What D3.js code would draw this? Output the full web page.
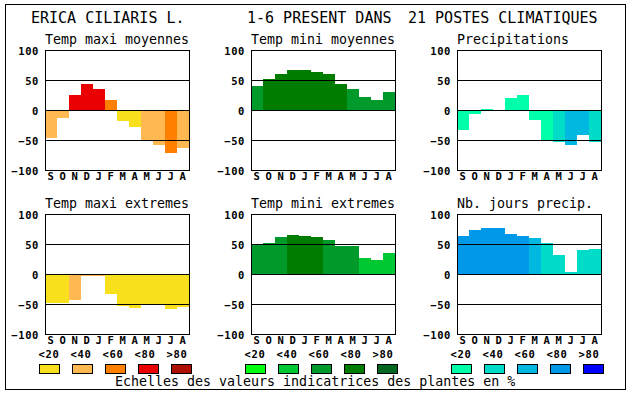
<!DOCTYPE html>
<html lang="fr">
<head>
    <meta charset="UTF-8">
    <title>erica-ciliaris</title>
    <script src="https://cdn.jsdelivr.net/npm/d3@7/dist/d3.min.js"></script>
    <style>
        body{
            margin: 0;
            background: #fff;
        }
        svg text{
            font-family: "DejaVu Sans Mono", "Liberation Mono", monospace;
            fill: #000;
        }
        .tick text{
            font-weight: bold;
            font-size: 10.5px;
            letter-spacing: 0.6px;
        }
    </style>
</head>
<body>
<svg class="chart"></svg>
<script>
    var width = 630;
    var height = 394;

    // mois, de septembre a aout
    var months = ['S', 'O', 'N', 'D', 'J', 'F', 'M', 'A', 'M', 'J', 'J', 'A'];
    var yTicks = [100, 50, 0, -50, -100];
    var legendLabels = ['<20', '<40', '<60', '<80', '>80'];

    var titles = ['ERICA CILIARIS L.', '1-6 PRESENT DANS', '21 POSTES CLIMATIQUES'];
    var panelTitles = ['Temp maxi moyennes', 'Temp mini moyennes', 'Precipitations',
        'Temp maxi extremes', 'Temp mini extremes', 'Nb. jours precip.'];

    // valeurs
    var tempMaxiMoy = [-46, -14, 25, 43, 35, 17, -18, -28, -50, -58, -71, -64];
    var tempMiniMoy = [40, 52, 60, 66, 67, 64, 60, 43, 35, 21, 17, 30];
    var precip = [-33, -6, 2, 0, 20, 25, -17, -50, -53, -58, -42, -54];
    var tempMaxiExt = [-49, -49, -43, -4, -4, -33, -53, -56, -50, -52, -58, -55];
    var tempMiniExt = [50, 52, 62, 65, 64, 62, 57, 47, 46, 27, 24, 35];
    var joursPrecip = [64, 74, 77, 77, 67, 64, 60, 52, 32, 4, 40, 42];

    // classe de couleur (0: <20 ... 4: >80)
    var tempMaxiMoyCls = [1, 1, 3, 3, 3, 2, 0, 0, 1, 1, 2, 1];
    var tempMiniMoyCls = [2, 3, 3, 3, 3, 3, 3, 3, 2, 2, 2, 2];
    var precipCls = [0, 0, 0, 0, 0, 0, 0, 0, 1, 2, 2, 1];
    var tempMaxiExtCls = [0, 0, 1, 1, 1, 0, 0, 0, 0, 0, 0, 0];
    var tempMiniExtCls = [2, 2, 2, 3, 3, 3, 2, 2, 2, 1, 1, 1];
    var joursPrecipCls = [3, 3, 3, 3, 3, 3, 2, 1, 1, 1, 1, 1];

    var warmColors = ['#f8e11c', '#ffb852', '#ff7f00', '#ea0000', '#ad1000'];
    var greenColors = ['#00ff10', '#00c832', '#009a2b', '#007d00', '#006620'];
    var blueColors = ['#00ffaa', '#00dcc8', '#00b8e0', '#0098e8', '#0000ff'];

    var panels = [
        {title: panelTitles[0], values: tempMaxiMoy, cls: tempMaxiMoyCls, colors: warmColors},
        {title: panelTitles[1], values: tempMiniMoy, cls: tempMiniMoyCls, colors: greenColors},
        {title: panelTitles[2], values: precip, cls: precipCls, colors: blueColors},
        {title: panelTitles[3], values: tempMaxiExt, cls: tempMaxiExtCls, colors: warmColors},
        {title: panelTitles[4], values: tempMiniExt, cls: tempMiniExtCls, colors: greenColors},
        {title: panelTitles[5], values: joursPrecip, cls: joursPrecipCls, colors: blueColors}
    ];

    var svg = d3.select('.chart')
        .attr('width', width)
        .attr('height', height);

    // cadre exterieur
    svg.append('rect')
        .attr('x', 5.5).attr('y', 4.5)
        .attr('width', 620).attr('height', 385)
        .attr('fill', 'none')
        .attr('stroke', '#000');

    var titleX = [31, 247, 408];
    svg.selectAll('.main-title')
        .data(titles)
        .enter()
        .append('text')
        .attr('class', 'main-title')
        .attr('x', function (d, i) { return titleX[i]; })
        .attr('y', 23)
        .style('font-size', '15px')
        .text(function (d) { return d; });

    var plotW = 144, plotH = 120;
    var colX = [45, 251, 457];
    var rowY = [50, 214];

    panels.forEach(function (p, i) {
        var left = colX[i % 3];
        var top = rowY[Math.floor(i / 3)];

        var x = d3.scaleBand()
            .domain(d3.range(months.length))
            .range([left, left + plotW]);
        var y = d3.scaleLinear()
            .domain([-100, 100])
            .range([top + plotH, top]);

        var g = svg.append('g');

        g.append('text')
            .attr('x', left)
            .attr('y', top - 6.5)
            .style('font-size', '13.3px')
            .text(p.title);

        // barres
        g.append('g')
            .selectAll('rect')
            .data(p.values)
            .enter()
            .append('rect')
            .attr('shape-rendering', 'crispEdges')
            .attr('x', function (d, j) { return x(j); })
            .attr('width', x.bandwidth())
            .attr('y', function (d) { return Math.min(y(d), y(0)); })
            .attr('height', function (d) { return Math.abs(y(d) - y(0)); })
            .attr('fill', function (d, j) { return p.colors[p.cls[j]]; });

        // lignes 50 / 0 / -50
        g.append('g')
            .selectAll('line')
            .data([50, 0, -50])
            .enter()
            .append('line')
            .attr('x1', left).attr('x2', left + plotW)
            .attr('y1', function (d) { return y(d) + 0.5; })
            .attr('y2', function (d) { return y(d) + 0.5; })
            .attr('stroke', '#000');

        g.append('rect')
            .attr('x', left + 0.5).attr('y', top + 0.5)
            .attr('width', plotW).attr('height', plotH)
            .attr('fill', 'none')
            .attr('stroke', '#000');

        var yAxis = g.append('g')
            .attr('transform', 'translate(' + left + ',0)')
            .call(d3.axisLeft(y).tickValues(yTicks).tickSize(0).tickPadding(6));
        yAxis.select('.domain').remove();
        yAxis.selectAll('text').attr('dy', '0.4em');

        var xAxis = g.append('g')
            .attr('transform', 'translate(0,' + (top + plotH) + ')')
            .call(d3.axisBottom(x).tickSize(0).tickPadding(3)
                .tickFormat(function (j) { return months[j]; }));
        xAxis.select('.domain').remove();

        // legende sous la seconde rangee
        if (i >= 3) {
            var lg = svg.append('g');
            lg.selectAll('text')
                .data(legendLabels)
                .enter()
                .append('text')
                .attr('x', function (d, k) { return left + 4 + k * 32; })
                .attr('y', 357.5)
                .attr('text-anchor', 'middle')
                .style('font-weight', 'bold')
                .style('font-size', '10.5px')
                .style('letter-spacing', '0.6px')
                .text(function (d) { return d; });
            lg.selectAll('rect')
                .data(p.colors)
                .enter()
                .append('rect')
                .attr('x', function (d, k) { return left - 5.5 + k * 33; })
                .attr('y', 364.5)
                .attr('width', 20).attr('height', 9)
                .attr('fill', function (d) { return d; })
                .attr('stroke', '#000');
        }
    });

    svg.append('text')
        .attr('x', 115)
        .attr('y', 386)
        .style('font-size', '13.3px')
        .text('Echelles des valeurs indicatrices des plantes en %');
</script>
</body>
</html>
